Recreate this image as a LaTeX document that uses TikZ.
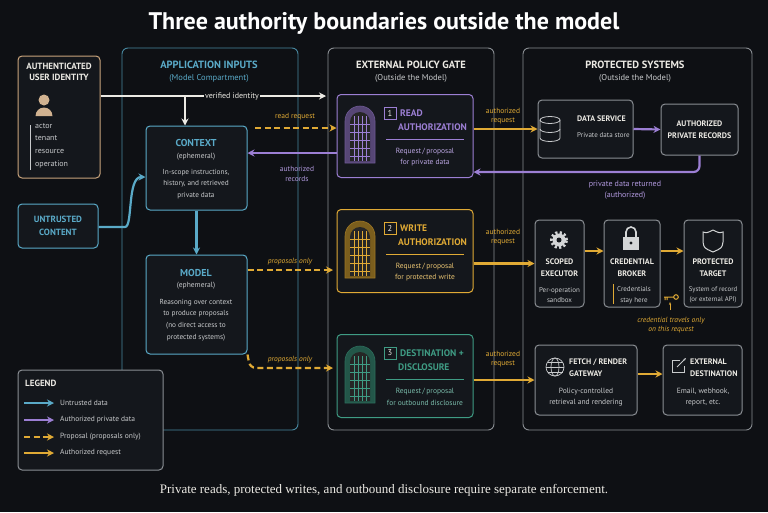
\documentclass[tikz,border=0pt]{standalone}
\usepackage{fontspec}
\setmainfont{PT Sans}
\newfontfamily\capfont{Liberation Serif}
\usetikzlibrary{arrows.meta,calc}
\definecolor{bg}{HTML}{0E1014}
\definecolor{panel}{HTML}{14171C}
\definecolor{fr}{HTML}{8A8E93}
\definecolor{blu}{HTML}{5AAAC8}
\definecolor{pur}{HTML}{9C7FD4}
\definecolor{gld}{HTML}{E0AA35}
\definecolor{tea}{HTML}{3F9C84}
\definecolor{org}{HTML}{C9A47C}
\definecolor{wht}{HTML}{ECEAE4}
\definecolor{gry}{HTML}{C8CACC}
\begin{document}
\begin{tikzpicture}[x=1pt,y=-1pt,
 box/.style={draw=#1,rounded corners=4pt,line width=1pt,fill=panel,inner sep=0pt},
 comp/.style={draw=#1,rounded corners=6pt,line width=0.9pt,inner sep=0pt},
 cap/.style={text=#1,font=\bfseries\fontsize{9}{10.5}\selectfont,align=center,inner sep=0pt},
 sm/.style={text=#1,font=\fontsize{7.5}{9}\selectfont,align=center,inner sep=0pt},
 ttl/.style={text=#1,font=\bfseries\fontsize{10.5}{12}\selectfont,align=center,inner sep=0pt},
 arr/.style={draw=#1,line width=2.2pt,-{Stealth[length=7pt,width=7pt]}},
 darr/.style={arr=#1,dash pattern=on 6pt off 3.5pt},
 lbl/.style={text=#1,font=\fontsize{7.5}{9}\selectfont,align=center,inner sep=1pt},
 ilbl/.style={lbl=#1,font=\itshape\fontsize{7.5}{9.5}\selectfont},
 nbox/.style={draw=#1,line width=0.8pt,minimum size=12pt,inner sep=0pt,text=wht,font=\fontsize{8.5}{9}\selectfont}
]
\fill[bg] (0,0) rectangle (768,512);
\useasboundingbox (0,0) rectangle (768,512);
\node[text=white,font=\bfseries\fontsize{24}{28}\selectfont] (title) at (384,23) {Three authority boundaries outside the model};

% compartments
\node[comp=blu!80!black,minimum width=176pt,minimum height=382pt] (appc) at (210,239) {};
\node[comp=fr,minimum width=166pt,minimum height=382pt] (gate) at (411,239) {};
\node[comp=fr,minimum width=229pt,minimum height=382pt] (prot) at (637.5,239) {};
\node[ttl=blu] (appt) at (209,65) {APPLICATION INPUTS};
\node[sm=blu,font=\fontsize{8.5}{9}\selectfont] (apps) at (209,78) {(Model Compartment)};
\node[ttl=wht] (gatet) at (411,65) {EXTERNAL POLICY GATE};
\node[sm=gry,font=\fontsize{8.5}{9}\selectfont] (gates) at (411,78) {(Outside the Model)};
\node[ttl=wht] (prott) at (635,65) {PROTECTED SYSTEMS};
\node[sm=gry,font=\fontsize{8.5}{9}\selectfont] (prots) at (635,78) {(Outside the Model)};

% user identity
\node[box=org,minimum width=82pt,minimum height=122pt] (user) at (59,117) {};
\node[cap=wht] (usert) at (59,72) {AUTHENTICATED\\USER IDENTITY};
\fill[org!85!white] (44,100) circle (5.5pt);
\fill[org!85!white] (35.5,116) arc[start angle=180,end angle=0,radius=8.5pt] -- cycle;
\draw[gry,line width=0.8pt] (30,125) -- (30,170);
\node[sm=gry,align=left,anchor=north west,font=\fontsize{8}{12.8}\selectfont] (attrs) at (35,123) {actor\\tenant\\resource\\operation};

% untrusted
\node[box=blu,minimum width=80pt,minimum height=44pt] (untr) at (58,226) {};
\node[cap=blu,font=\bfseries\fontsize{9}{13}\selectfont] (untrt) at (58,226) {UNTRUSTED\\CONTENT};

% context & model
\node[box=blu,minimum width=101pt,minimum height=84pt] (ctx) at (196.5,168) {};
\node[cap=blu,font=\bfseries\fontsize{10}{11}\selectfont] (ctxt) at (196,143) {CONTEXT};
\node[sm=gry] (ctxe) at (196,157) {(ephemeral)};
\node[sm=gry,font=\fontsize{7.3}{11.5}\selectfont] (ctxd) at (196,184) {In-scope instructions,\\history, and retrieved\\private data};
\node[box=blu,minimum width=101pt,minimum height=99pt] (model) at (196.5,304.5) {};
\node[cap=blu,font=\bfseries\fontsize{10}{11}\selectfont] (modt) at (196,273) {MODEL};
\node[sm=gry] (mode) at (196,286) {(ephemeral)};
\node[sm=gry,font=\fontsize{7.3}{11.7}\selectfont] (modd) at (196,320) {Reasoning over context\\to produce proposals\\(no direct access to\\protected systems)};

% legend
\node[box=fr,minimum width=145pt,minimum height=100pt] (leg) at (90.5,420) {};
\node[cap=wht,anchor=west] (legt) at (25,383) {LEGEND};
\coordinate (la1) at (24,403); \coordinate (lb1) at (54,403);
\coordinate (la2) at (24,420); \coordinate (lb2) at (54,420);
\coordinate (la3) at (24,437); \coordinate (lb3) at (54,437);
\coordinate (la4) at (24,453); \coordinate (lb4) at (54,453);
\draw[arr=blu] (la1) -- (lb1);
\draw[arr=pur] (la2) -- (lb2);
\draw[darr=gld] (la3) -- (lb3);
\draw[arr=gld] (la4) -- (lb4);
\node[sm=gry,anchor=west] (l1) at (60,403) {Untrusted data};
\node[sm=gry,anchor=west] (l2) at (60,420) {Authorized private data};
\node[sm=gry,anchor=west] (l3) at (60,437) {Proposal (proposals only)};
\node[sm=gry,anchor=west] (l4) at (60,453) {Authorized request};

% gate boxes with doors
\foreach \nm/\c/\y/\n/\ta/\tb/\db in {
 rd/pur/136/1/READ/AUTHORIZATION/for private data,
 wr/gld/251/2/WRITE/AUTHORIZATION/for protected write,
 ds/tea/376/3/DESTINATION +/DISCLOSURE/for outbound disclosure}{
 \node[box=\c,minimum width=136pt,minimum height=83pt] (\nm) at (405,\y) {};
 \begin{scope}[shift={(360,\y)}]
  \fill[\c!55!black,draw=\c!70!black,line width=0.6pt] (-15,27) -- (-15,-15) arc[start angle=180,end angle=0,radius=15pt] -- (15,27) -- cycle;
  \fill[black!85] (-10,25) -- (-10,-14) arc[start angle=180,end angle=0,radius=10pt] -- (10,25) -- cycle;
  \foreach \xx in {-6,-2,2,6} \draw[\c,line width=0.7pt] (\xx,-20) -- (\xx,25);
  \foreach \yy in {-12,-4,4,12,20} \draw[\c,line width=0.7pt] (-10,\yy) -- (10,\yy);
 \end{scope}
 \node[nbox=\c] (\nm n) at (390,\y-23) {\n};
 \node[cap=\c,anchor=west,font=\bfseries\fontsize{9.5}{10}\selectfont] (\nm a) at (400,\y-23) {\ta};
 \node[cap=\c,anchor=west,font=\bfseries\fontsize{9.5}{10}\selectfont] (\nm b) at (398,\y-9) {\tb};
 \draw[\c,line width=0.6pt] (386,\y+3) -- (464,\y+3);
 \node[sm=\c!70!white] (\nm d) at (425,\y+21) {Request\,/\,proposal\\[2.5pt]\db};
}

% protected systems
\node[box=fr,minimum width=95pt,minimum height=58pt] (data) at (585.5,129) {};
\begin{scope}[shift={(560,129)},gry,line width=0.8pt]
 \draw (-10,-9) ellipse (10pt and 3.5pt);
 \draw (-20,-9) -- (-20,9) arc[start angle=180,end angle=360,x radius=10pt,y radius=3.5pt] -- (0,-9);
 \draw (-20,0) arc[start angle=180,end angle=360,x radius=10pt,y radius=3.5pt];
\end{scope}
\node[cap=wht,anchor=west,font=\bfseries\fontsize{8}{9}\selectfont] (datat) at (577,119) {DATA SERVICE};
\node[sm=gry,anchor=west,font=\fontsize{7}{8}\selectfont] (datas) at (577,135) {Private data store};
\node[box=fr,minimum width=77pt,minimum height=51pt] (recs) at (699.5,129.5) {};
\node[cap=wht,font=\bfseries\fontsize{8}{12}\selectfont] (recst) at (699.5,130) {AUTHORIZED\\PRIVATE RECORDS};

\node[box=fr,minimum width=49pt,minimum height=87pt] (exec) at (559.5,263.5) {};
\node[box=fr,minimum width=56pt,minimum height=87pt] (brok) at (632,263.5) {};
\node[box=fr,minimum width=58pt,minimum height=87pt] (targ) at (713,263.5) {};
% gear
\draw[gry!80,line width=3pt,dash pattern=on 2.2pt off 2.2pt] (559,240) circle (7.5pt);
\fill[gry!80] (559,240) circle (6.5pt); \fill[panel] (559,240) circle (2.5pt);
% lock
\draw[gry!80,line width=1.6pt] (626,238) -- (626,232) arc[start angle=180,end angle=0,radius=5pt] -- (636,238);
\fill[gry!80] (623,237) rectangle (639,250);
\fill[panel] (631,243) circle (1.6pt);
% shield
\draw[gry!80,line width=1pt] (713,230) .. controls (707,233) .. (703,232) -- (703,242) .. controls (704,248) .. (713,252) .. controls (722,248) .. (723,242) -- (723,232) .. controls (719,233) .. (713,230);
\node[cap=wht,font=\bfseries\fontsize{8}{12}\selectfont] (exect) at (559.5,268) {SCOPED\\EXECUTOR};
\node[sm=gry,font=\fontsize{7}{10.5}\selectfont] (execs) at (559.5,295) {Per-operation\\sandbox};
\node[cap=wht,font=\bfseries\fontsize{8}{12}\selectfont] (brokt) at (632,268) {CREDENTIAL\\BROKER};
\draw[gld,line width=1pt] (613,284) -- (613,304);
\node[sm=gry,font=\fontsize{7}{10.5}\selectfont] (broks) at (634,295) {Credentials\\stay here};
\node[cap=wht,font=\bfseries\fontsize{8}{12}\selectfont] (targt) at (713,268) {PROTECTED\\TARGET};
\node[sm=gry,font=\fontsize{6.8}{10.5}\selectfont] (targs) at (713,295) {System of record\\(or external API)};
% key
\draw[gld,line width=1pt] (676,297) circle (2.3pt) (673.7,297) -- (664,297) (667,297) -- (667,300) (665,297) -- (665,300);
\coordinate (keyb) at (670,310);
\coordinate (keyt) at (670,302);
\draw[gld,line width=0.6pt,-{Stealth[length=3pt]}] (keyb) -- (keyt);
\node[ilbl=gld] (credl) at (671,325) {credential travels only\\on this request};

\node[box=fr,minimum width=102pt,minimum height=70pt] (gw) at (586,380) {};
\begin{scope}[gry,line width=0.7pt]
 \draw (555,367) circle (9pt); \draw (555,367) ellipse (4pt and 9pt);
 \draw (546,367) -- (564,367); \draw (547.5,362) -- (562.5,362); \draw (547.5,372) -- (562.5,372);
\end{scope}
\node[cap=wht,anchor=west,font=\bfseries\fontsize{8}{12}\selectfont,align=left] (gwt) at (569,368) {FETCH / RENDER\\GATEWAY};
\node[sm=gry,font=\fontsize{7.5}{11.5}\selectfont] (gws) at (586,397) {Policy-controlled\\retrieval and rendering};
\node[box=fr,minimum width=79pt,minimum height=70pt] (ext) at (702.5,380) {};
\draw[gry,line width=0.8pt] (680,360) -- (672,360) -- (672,372) -- (684,372) -- (684,366);
\draw[gry,line width=0.8pt,-{Stealth[length=3pt]}] (677,367) -- (686,358);
\node[cap=wht,anchor=west,font=\bfseries\fontsize{8}{12}\selectfont,align=left] (extt) at (690,368) {EXTERNAL\\DESTINATION};
\node[sm=gry,font=\fontsize{7.5}{11.5}\selectfont] (exts) at (703,397) {Email, webhook,\\report, etc.};

% connectors
\coordinate (vi0) at (326,96);
\coordinate (vbr) at (185,96);
\draw[arr=wht] (user.east |- vi0) -- (vi0);
\draw[wht,line width=2.2pt,rounded corners=5pt,-{Stealth[length=7pt,width=7pt]}] (vbr) -- (vbr |- ctx.north);
\node[lbl=wht,fill=bg,font=\fontsize{8}{9}\selectfont] (vil) at (232,96) {verified identity};

\coordinate (rr0) at (255,128);
\draw[darr=gld] (rr0) -- (rd.west |- rr0);
\node[lbl=gld] (rrl) at (295,117) {read request};
\draw[arr=pur] (rd.west |- 0,153) -- (ctx.east |- 0,153);
\node[lbl=pur!80!white,font=\fontsize{7.5}{10}\selectfont] (arl) at (297,174) {authorized\\records};

\coordinate (ut1) at (125,227);
\draw[blu,line width=2.2pt,-{Stealth[length=7pt,width=7pt]}] (untr.east |- ut1) -- (ut1) .. controls (133,227) and (127,177) .. (ctx.west |- 0,177);
\draw[arr=blu] (ctx.south) -- (model.north);

\coordinate (po1) at (333,270);
\draw[darr=gld] (model.east |- po1) -- (po1);
\node[ilbl=gld] (pol1) at (290,262) {proposals only};
\coordinate (po2) at (333,368);
\draw[gld,line width=2.2pt,dash pattern=on 6pt off 3.5pt,-{Stealth[length=7pt,width=7pt]},rounded corners=6pt] (model.south east) -- (250,368) -- (po2);
\node[ilbl=gld] (pol2) at (290,360) {proposals only};

\draw[arr=gld] (rd.east |- data.west) -- (data.west);
\node[lbl=gld,font=\fontsize{7.5}{9}\selectfont] (a1) at (503,116) {authorized\\request};
\draw[arr=gld] (wr.east |- exec.west) -- (exec.west);
\node[lbl=gld,font=\fontsize{7.5}{9}\selectfont] (a2) at (503,237) {authorized\\request};
\draw[arr=gld] (ds.east |- gw.west) -- (gw.west);
\node[lbl=gld,font=\fontsize{7.5}{9}\selectfont] (a3) at (503,359) {authorized\\request};

\draw[arr=pur] (data.east) -- (recs.west);
\draw[pur,line width=2.2pt,rounded corners=6pt,-{Stealth[length=7pt,width=7pt]}] (recs.south) -- (recs.south |- 0,172) -- (rd.east |- 0,172);
\node[lbl=pur!80!white,font=\fontsize{8}{10.5}\selectfont] (pdl) at (625,190) {private data returned\\(authorized)};

\draw[arr=gld] (exec.east |- 0,251) -- (brok.west |- 0,251);
\draw[arr=gld] (brok.east |- 0,251) -- (targ.west |- 0,251);
\draw[arr=gld] (gw.east |- 0,374) -- (ext.west |- 0,374);

\node[text=wht,font=\capfont\fontsize{13}{15}\selectfont] (capt) at (384,490) {Private reads, protected writes, and outbound disclosure require separate enforcement.};
\end{tikzpicture}
\end{document}
